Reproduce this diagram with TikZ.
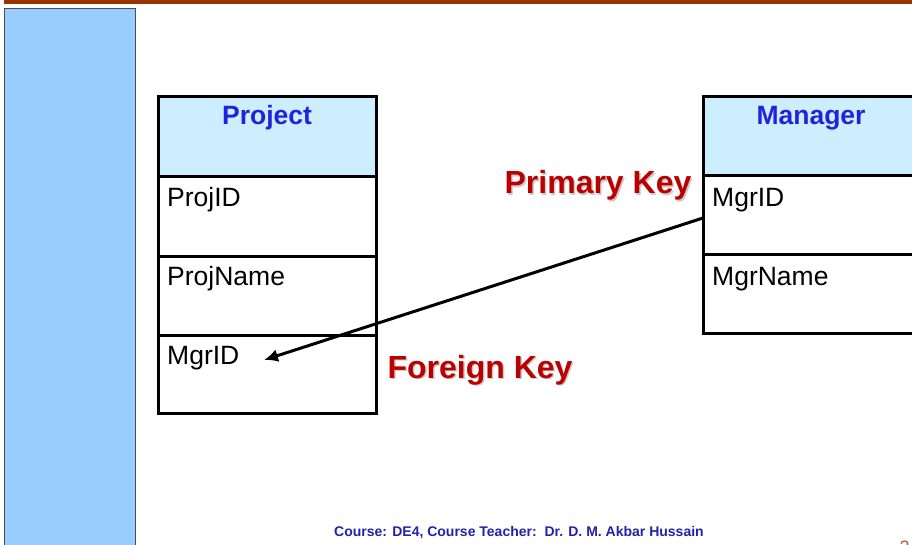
\documentclass[tikz,border=0pt]{standalone}
\usepackage{fontspec}
\setmainfont{Liberation Sans}
\usetikzlibrary{arrows.meta}
\definecolor{barbrown}{HTML}{993300}
\definecolor{sidebarblue}{HTML}{99CCFF}
\definecolor{headblue}{HTML}{CCEEFF}
\definecolor{titleblue}{HTML}{2222DD}
\definecolor{keyred}{HTML}{BB0000}
\definecolor{footblue}{HTML}{2222AA}
\newcommand{\shadowtext}[1]{\textcolor{black!20}{\rlap{\kern1.5pt\raisebox{-1.5pt}{#1}}}#1}
\tikzset{
  x=1pt, y=-1pt,
  cell/.style={draw=black, line width=3pt},
  header/.style={cell, fill=headblue},
  title/.style={font=\fontsize{26.5}{30}\selectfont\bfseries, text=titleblue},
  field/.style={font=\fontsize{26.5}{30}\selectfont, anchor=base west, inner sep=0pt},
  keylabel/.style={font=\fontsize{32}{36}\selectfont\bfseries, text=keyred}
}
\begin{document}
\begin{tikzpicture}
\useasboundingbox (0,0) rectangle (912,544);
% slide frame
\fill[barbrown] (4,0) rectangle (912,4);
\filldraw[fill=sidebarblue, draw=black!70, line width=1pt] (4.5,8.5) rectangle (135,550);

% Project table
\filldraw[header] (158,96) rectangle (376,176);
\draw[cell] (158,176) rectangle (376,256);
\draw[cell] (158,256) rectangle (376,335);
\draw[cell] (158,335) rectangle (376,413);
\node[title] (ptitle) at (267,118) {Project};
\node[field] (pid) at (167,206) {ProjID};
\node[field] (pname) at (167,285) {ProjName};
\node[field] (pmgr) at (167,364) {MgrID};

% Manager table
\filldraw[header] (703,96) rectangle (930,175);
\draw[cell] (703,175) rectangle (930,254);
\draw[cell] (703,254) rectangle (930,333);
\node[title] (mtitle) at (811,118) {Manager};
\node[field] (mid) at (712,206) {MgrID};
\node[field] (mname) at (712,285) {MgrName};

% key labels
\node[keylabel] (pk) at (598,186) {\shadowtext{Primary Key}};
\node[keylabel] (fk) at (480,371) {\shadowtext{Foreign Key}};

% reference arrow
\coordinate (from) at (703,218);
\coordinate (to) at (264,360);
\draw[line width=3pt, -{Latex[length=14pt,width=13pt]}] (from) -- (to);

% footer
\node[font=\fontsize{14}{16}\selectfont\bfseries, text=footblue] (foot) at (519,533) {Course: DE4, Course Teacher:\ \ Dr. D. M. Akbar Hussain};
\node[font=\fontsize{18}{20}\selectfont, text=barbrown!80, anchor=west] (pg) at (896,547) {2};
\end{tikzpicture}
\end{document}
